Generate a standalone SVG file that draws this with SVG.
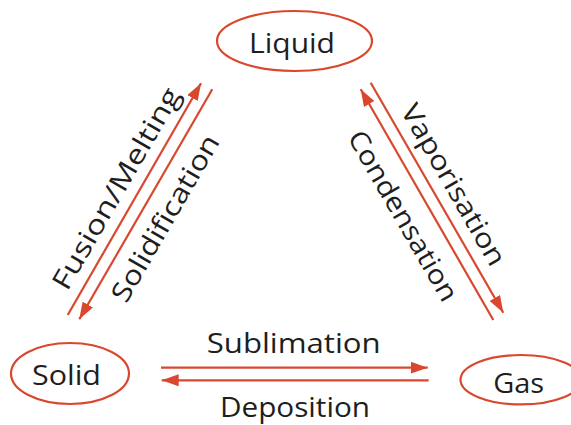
<svg xmlns="http://www.w3.org/2000/svg" width="571" height="425" viewBox="0 0 571 425">
<defs>
<style>
.node{fill:#fff;stroke:#d9472f;stroke-width:2.2}
.lbl{font-family:"Open Sans","DejaVu Sans",sans-serif;font-size:27px;fill:#1e1e1e;text-anchor:middle}
.ar{stroke:#d9472f;stroke-width:2.2;fill:none;marker-end:url(#ah)}
</style>
<marker id="ah" markerUnits="userSpaceOnUse" markerWidth="18" markerHeight="12" refX="17" refY="6" orient="auto">
<path d="M0,0 L17,6 L0,12 Z" fill="#d9472f"/>
</marker>
</defs>
<rect width="571" height="425" fill="#fff"/>
<g id="connectors">
<path class="ar" d="M161,367.7 L427.7,367.7"/>
<path class="ar" d="M428.7,380.3 L161.7,380.3"/>
<path class="ar" d="M67.7,315 L201,83.3"/>
<path class="ar" d="M212.3,89.3 L79.3,319.3"/>
<path class="ar" d="M370.7,82.7 L503.3,312.7"/>
<path class="ar" d="M493.3,320 L360.7,89.3"/>
<text class="lbl" x="293.7" y="353.3" textLength="174" lengthAdjust="spacingAndGlyphs">Sublimation</text>
<text class="lbl" x="295" y="416.5" textLength="150" lengthAdjust="spacingAndGlyphs">Deposition</text>
<text class="lbl" transform="translate(124.3,193.3) rotate(-60)" x="0" y="0" textLength="228" lengthAdjust="spacingAndGlyphs">Fusion/Melting</text>
<text class="lbl" transform="translate(173.3,222.8) rotate(-60)" x="0" y="0" textLength="188" lengthAdjust="spacingAndGlyphs">Solidification</text>
<text class="lbl" transform="translate(445.6,189.5) rotate(60)" x="0" y="0" textLength="182" lengthAdjust="spacingAndGlyphs">Vaporisation</text>
<text class="lbl" transform="translate(395,220.5) rotate(60)" x="0" y="0" textLength="192" lengthAdjust="spacingAndGlyphs">Condensation</text>
</g>
<g id="liquid">
<ellipse class="node" cx="294.5" cy="41" rx="77.5" ry="30"/>
<text class="lbl" x="292" y="53.3" textLength="86" lengthAdjust="spacingAndGlyphs">Liquid</text>
</g>
<g id="solid">
<ellipse class="node" cx="70" cy="373.5" rx="59" ry="30.5"/>
<text class="lbl" x="66.5" y="385" textLength="69" lengthAdjust="spacingAndGlyphs">Solid</text>
</g>
<g id="gas">
<ellipse class="node" cx="521" cy="379.7" rx="60.5" ry="24.7"/>
<text class="lbl" x="518.7" y="393.3" textLength="51" lengthAdjust="spacingAndGlyphs">Gas</text>
</g>
</svg>
